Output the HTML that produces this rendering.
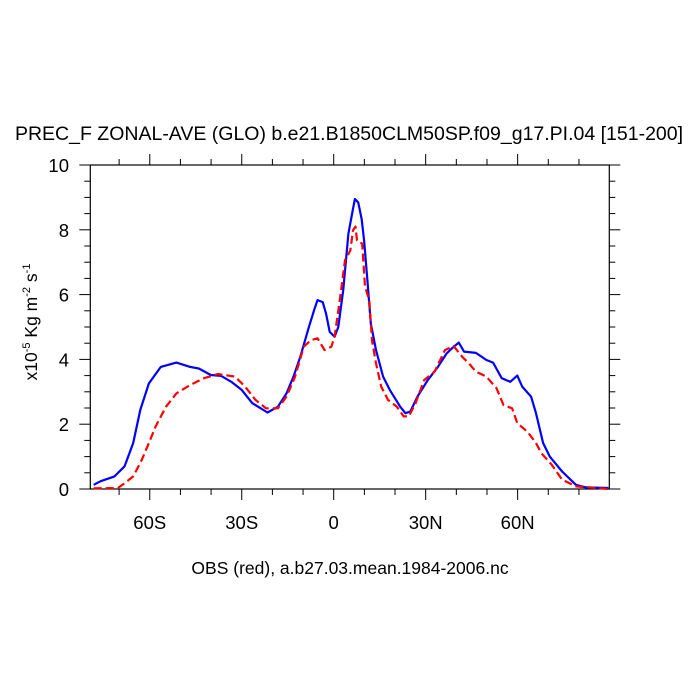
<!DOCTYPE html>
<html><head><meta charset="utf-8"><style>body{margin:0;background:#fff}svg{display:block;font-family:"Liberation Sans",sans-serif}</style></head>
<body>
<svg id="c" width="700" height="700">
<text x="349" y="140" font-size="19.5" text-anchor="middle">PREC_F ZONAL-AVE (GLO) b.e21.B1850CLM50SP.f09_g17.PI.04 [151-200]</text>
<text x="350" y="574" font-size="17.5" text-anchor="middle">OBS (red), a.b27.03.mean.1984-2006.nc</text>
<text transform="translate(37,322) rotate(-90)" font-size="17.5" text-anchor="middle">x10<tspan dy="-7" font-size="11">-5</tspan><tspan dy="7"> Kg m</tspan><tspan dy="-7" font-size="11">-2</tspan><tspan dy="7"> s</tspan><tspan dy="-7" font-size="11">-1</tspan></text>
<g id="axes"></g>
<g id="series"></g>
</svg>
<script>
const modelLat=[-78.3,-76,-71.5,-68.2,-65.4,-63.1,-60.3,-56.4,-51.3,-46.8,-44,-40.1,-36.7,-33.4,-30,-26.6,-21.6,-18.2,-15.4,-13.1,-10.9,-8.1,-6.4,-5.3,-3.6,-2.5,-1.3,0.3,1.5,3.1,4.8,6.2,6.9,8.0,9.1,9.9,11,12.1,13.8,16.1,18.3,21.7,23.4,25,27.3,30.7,34,36.8,39.1,40.8,42.5,46.4,49.8,52,54.8,57.6,59.9,61.5,64.4,66,68.3,70.5,74.5,79,82.3,89.6];
const modelVal=[0.13,0.24,0.39,0.7,1.42,2.44,3.26,3.77,3.9,3.77,3.72,3.52,3.49,3.31,3.06,2.65,2.36,2.54,2.95,3.47,4.08,5.0,5.52,5.83,5.77,5.42,4.85,4.7,5.0,6.13,7.88,8.6,8.95,8.85,8.34,7.67,6.44,5.11,4.29,3.47,3.06,2.54,2.34,2.39,2.85,3.36,3.77,4.18,4.39,4.52,4.24,4.2,3.98,3.9,3.42,3.31,3.5,3.16,2.85,2.34,1.42,1.0,0.54,0.13,0.05,0.03];
const obsLat=[-78.3,-70.4,-68.2,-65.4,-62.6,-60.3,-58.1,-54.7,-51.3,-46.8,-42.3,-37.8,-32.2,-28.9,-25.5,-22.1,-18.2,-15.4,-12.6,-9.8,-7.5,-5.3,-3,-0.8,0.3,2,3.7,5.4,6.3,7.1,7.6,9.3,10.2,11.6,12.5,13.8,15.5,17.7,20.6,22.8,24.5,26.7,29.5,32.9,36.3,39.1,41.9,44.1,46.4,49.8,53.1,55.4,58.2,59.9,63.2,66,67.7,71.1,74.5,79,89.6];
const obsVal=[0.02,0.03,0.18,0.39,0.9,1.42,1.93,2.54,2.95,3.21,3.42,3.55,3.47,3.16,2.75,2.49,2.49,2.85,3.47,4.39,4.59,4.65,4.29,4.39,4.7,5.83,7.06,7.36,7.98,8.1,7.67,7.57,6.24,5.83,4.59,3.88,3.16,2.75,2.54,2.24,2.24,2.65,3.36,3.62,4.29,4.41,4.08,3.88,3.62,3.47,3.11,2.59,2.49,2.03,1.77,1.42,1.11,0.75,0.29,0.08,0];
const xTicks=[-60,-30,0,30,60];
const xTickLabels=["60S","30S","0","30N","60N"];
const yTicks=[0,2,4,6,8,10];
const X0=90.3,X1=609.3,Y0=489,Y1=165,LATMIN=-79.4,LATMAX=89.9,VMIN=0,VMAX=10;
const sx=v=>X0+(v-LATMIN)/(LATMAX-LATMIN)*(X1-X0);
const sy=v=>Y0-(v-VMIN)/(VMAX-VMIN)*(Y0-Y1);
const NS="http://www.w3.org/2000/svg";
const ax=document.getElementById('axes'),sr=document.getElementById('series');
function mk(tag,at,p){const e=document.createElementNS(NS,tag);for(const k in at)e.setAttribute(k,at[k]);p.appendChild(e);return e;}
const box=mk('rect',{x:X0,y:Y1,width:X1-X0,height:Y0-Y1,fill:'none',stroke:'#000','stroke-width':1.2},ax);


for(let v=-70;v<=80;v+=10){const x=sx(v),maj=v%30===0,l=maj?11:6;
 mk('line',{x1:x,x2:x,y1:Y0,y2:Y0+l,stroke:'#000'},ax);mk('line',{x1:x,x2:x,y1:Y1,y2:Y1-l,stroke:'#000'},ax);}
xTicks.forEach((v,i)=>{const t=mk('text',{x:sx(v),y:529,'font-size':18.5,'text-anchor':'middle'},ax);t.textContent=xTickLabels[i];
 
 });
for(let v=0;v<=10;v+=0.5){const y=sy(v),maj=v%2===0,l=maj?11:6;
 mk('line',{x1:X0,x2:X0-l,y1:y,y2:y,stroke:'#000'},ax);mk('line',{x1:X1,x2:X1+l,y1:y,y2:y,stroke:'#000'},ax);}
yTicks.forEach(v=>{const t=mk('text',{x:69,y:sy(v)+7,'font-size':18.5,'text-anchor':'end'},ax);t.textContent=String(v);
 
 });
function line(la,va,col,dash,name){const d=la.map((l,i)=>(i?'L':'M')+sx(l).toFixed(1)+','+sy(va[i]).toFixed(1)).join('');
 const p=mk('path',{d:d,fill:'none',stroke:col,'stroke-width':2.2,'stroke-dasharray':dash,'stroke-linejoin':'round'},sr);
 
 }
line(modelLat,modelVal,'#0000ff','none','model-line');
line(obsLat,obsVal,'#ff0000','8 4','obs-line');
</script>
</body></html>
